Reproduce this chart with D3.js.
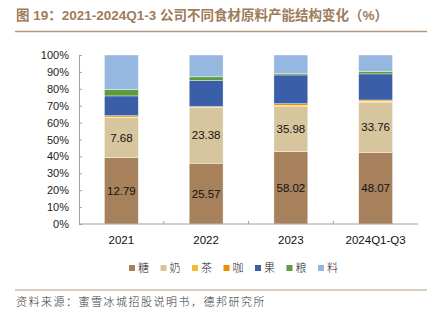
<!DOCTYPE html>
<html>
<head>
<meta charset="utf-8">
<script src="https://cdn.jsdelivr.net/npm/d3@7"></script>
<style>
    body { margin: 0; background: #fff; }
    svg { display: block; font-family: "Liberation Sans", Arial, sans-serif; }
</style>
</head>
<body>
<div id="chart"></div>
<script>
// raw material capacity by type (value labels shown for sugar & milk)
const years = ["2021", "2022", "2023", "2024Q1-Q3"];
const kinds = ["糖", "奶", "茶", "咖", "果", "粮", "料"];
const sugar = [12.79, 25.57, 58.02, 48.07];
const milk = [7.68, 23.38, 35.98, 33.76];
const tea = [0.10, 0.15, 1.10, 0.60];
const coffee = [0.25, 0.30, 1.30, 0.80];
const fruit = [3.80, 10.90, 23.00, 17.50];
const grain = [1.24, 1.60, 1.40, 1.80];
const other = [6.63, 9.20, 14.60, 10.90];
const yTicks = [0, 0.1, 0.2, 0.3, 0.4, 0.5, 0.6, 0.7, 0.8, 0.9, 1];
const colors = ["#A6815B", "#D7C59E", "#F5B93B", "#F08C00", "#3A5EA8", "#5F9C3F", "#96B7DF"];

const rows = years.map(function (y, i) {
    return {
        year: y, "糖": sugar[i], "奶": milk[i], "茶": tea[i], "咖": coffee[i],
        "果": fruit[i], "粮": grain[i], "料": other[i]
    };
});

const width = 434, height = 327;
const margin = {top: 55, right: 16, bottom: 103, left: 79};
const w = width - margin.left - margin.right;
const h = height - margin.top - margin.bottom;

const svg = d3.select("#chart").append("svg")
    .attr("width", width)
    .attr("height", height);

/*** title ***/
svg.append("text")
    .attr("x", 16).attr("y", 20)
    .attr("fill", "#A07C5A")
    .attr("font-size", 13.5)
    .attr("font-weight", "bold")
    .attr("font-family", "'Liberation Sans', 'Noto Sans CJK SC', sans-serif")
    .text("图 19：2021-2024Q1-3 公司不同食材原料产能结构变化（%）");
svg.append("line")
    .attr("x1", 15).attr("x2", 427).attr("y1", 31.5).attr("y2", 31.5)
    .attr("stroke", "#B59A80").attr("stroke-width", 1.5);

const g = svg.append("g")
    .attr("transform", "translate(" + margin.left + "," + margin.top + ")");

const x = d3.scaleBand().domain(years).range([0, w]).paddingInner(0.6).paddingOuter(0.3);
const xBand = d3.scaleBand().domain(years).range([0, w]);
const y = d3.scaleLinear().domain([0, 1]).range([h, 0]);

const stack = d3.stack().keys(kinds).offset(d3.stackOffsetExpand);
const series = stack(rows);

/*** axes ***/
const yAxis = g.append("g")
    .call(d3.axisLeft(y).tickValues(yTicks).tickSize(-3).tickPadding(10)
        .tickFormat(d3.format(".0%")));
yAxis.select(".domain").attr("stroke", "#A0A0A0");
yAxis.selectAll(".tick line").attr("stroke", "#A0A0A0");
yAxis.selectAll("text").attr("font-size", 11).attr("fill", "#222");

/*** bars ***/
g.selectAll(".layer")
    .data(series)
    .enter().append("g")
    .attr("class", "layer")
    .attr("fill", function (d, i) { return colors[i]; })
    .selectAll("rect")
    .data(function (d) { return d; })
    .enter().append("rect")
    .attr("x", function (d) { return x(d.data.year); })
    .attr("width", x.bandwidth())
    .attr("y", function (d) { return y(d[1]); })
    .attr("height", function (d) { return y(d[0]) - y(d[1]); })
    .attr("stroke", "#fff")
    .attr("stroke-width", 0.4);

// value labels for 糖 and 奶
series.slice(0, 2).forEach(function (s) {
    g.selectAll(null)
        .data(s)
        .enter().append("text")
        .attr("x", function (d) { return x(d.data.year) + x.bandwidth() / 2; })
        .attr("y", function (d) { return (y(d[0]) + y(d[1])) / 2; })
        .attr("dy", "0.35em")
        .attr("text-anchor", "middle")
        .attr("font-size", 11.5)
        .attr("fill", "#111")
        .text(function (d) { return d3.format(".2f")(d.data[s.key]); });
});

const xAxis = g.append("g")
    .attr("transform", "translate(0," + h + ")");
xAxis.append("line")
    .attr("x1", 0).attr("x2", w)
    .attr("stroke", "#A0A0A0");
xAxis.selectAll(".sep")
    .data(years.slice(1))
    .enter().append("line")
    .attr("x1", function (d) { return xBand(d); })
    .attr("x2", function (d) { return xBand(d); })
    .attr("y1", -3).attr("y2", 0)
    .attr("stroke", "#A0A0A0");
xAxis.selectAll(".lbl")
    .data(years)
    .enter().append("text")
    .attr("x", function (d) { return x(d) + x.bandwidth() / 2; })
    .attr("y", 16)
    .attr("dy", "0.35em")
    .attr("text-anchor", "middle")
    .attr("font-size", 11.5)
    .attr("fill", "#111")
    .text(function (d) { return d; });

/*** legend ***/
const legend = svg.append("g")
    .attr("transform", "translate(129,268)");
const item = legend.selectAll(".item")
    .data(kinds)
    .enter().append("g")
    .attr("transform", function (d, i) { return "translate(" + (i * 31.5) + ",0)"; });
item.append("rect")
    .attr("x", 0).attr("y", -3)
    .attr("width", 6).attr("height", 6)
    .attr("fill", function (d, i) { return colors[i]; });
item.append("text")
    .attr("x", 9).attr("dy", "0.35em")
    .attr("font-size", 11)
    .attr("font-family", "'Noto Sans CJK SC', sans-serif")
    .attr("font-weight", 300)
    .attr("fill", "#222")
    .text(function (d) { return d; });

/*** source ***/
svg.append("line")
    .attr("x1", 15).attr("x2", 427).attr("y1", 290).attr("y2", 290)
    .attr("stroke", "#B59A80").attr("stroke-width", 1.2);
svg.append("text")
    .attr("x", 16).attr("y", 306)
    .attr("font-size", 11)
    .attr("letter-spacing", 1.5)
    .attr("font-family", "'Noto Sans CJK SC', sans-serif")
    .attr("font-weight", 300)
    .attr("fill", "#333")
    .text("资料来源：蜜雪冰城招股说明书，德邦研究所");
</script>
</body>
</html>
